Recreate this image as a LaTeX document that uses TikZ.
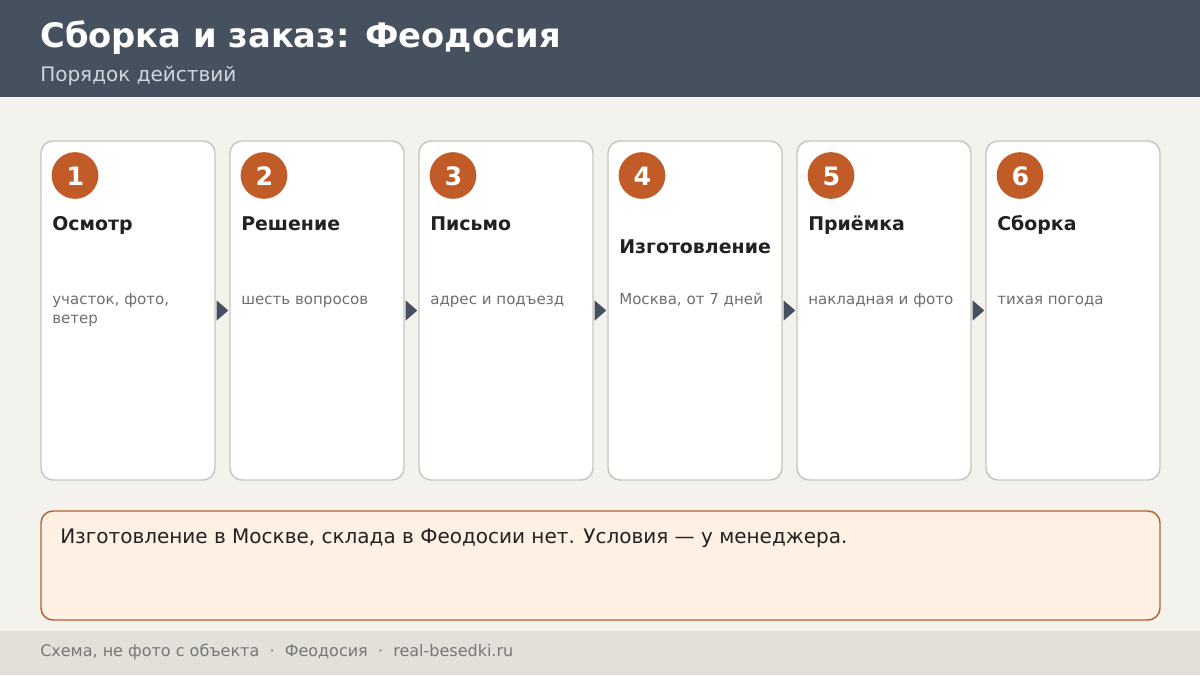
\documentclass[tikz,border=0pt]{standalone}
\usepackage{fontspec}
\setmainfont{DejaVu Sans}
\usetikzlibrary{calc}
\definecolor{hdr}{HTML}{465160}
\definecolor{bgc}{HTML}{F4F2ED}
\definecolor{cardb}{HTML}{C9C5BD}
\definecolor{accent}{HTML}{C15B28}
\definecolor{ink}{HTML}{222222}
\definecolor{muted}{HTML}{6E6E6E}
\definecolor{subt}{HTML}{D0D6DE}
\definecolor{notef}{HTML}{FEF0E2}
\definecolor{noteb}{HTML}{B5622F}
\definecolor{foot}{HTML}{E3E0DA}
\definecolor{foottxt}{HTML}{777777}
\tikzset{
  card/.style={draw=cardb, fill=white, line width=1.1pt, rounded corners=9pt,
    minimum width=130.5pt, minimum height=254.25pt, inner sep=0pt},
  num/.style={circle, fill=accent, minimum size=35pt, inner sep=0pt},
  numtxt/.style={text=white, font=\bfseries\fontsize{19}{19}\selectfont, inner sep=0pt},
  ttl/.style={anchor=base west, inner sep=0pt, text=ink, font=\bfseries\fontsize{14.2}{16}\selectfont},
  desc/.style={anchor=base west, inner sep=0pt, text=muted, font=\fontsize{11.3}{14}\selectfont},
  arr/.style={fill=hdr},
}
\begin{document}
\begin{tikzpicture}[x=0.75pt,y=-0.75pt]
\useasboundingbox (0,0) rectangle (1200,675);
\fill[bgc] (0,0) rectangle (1200,675);
\fill[hdr] (0,0) rectangle (1200,97);
\node[anchor=base west, inner sep=0pt, text=white, font=\bfseries\fontsize{25.3}{28}\selectfont] (title) at (40,47) {Сборка и заказ: Феодосия};
\node[anchor=base west, inner sep=0pt, text=subt, font=\fontsize{15}{18}\selectfont] (subtitle) at (40,81) {Порядок действий};

% cards
\foreach \i/\x/\t/\ty/\d in {
  1/41/Осмотр/230/{участок, фото,},
  2/230/Решение/230/{шесть вопросов},
  3/419/Письмо/230/{адрес и подъезд},
  4/608/Изготовление/253/{Москва, от 7 дней},
  5/797/Приёмка/230/{накладная и фото},
  6/986/Сборка/230/{тихая погода}} {
  \node[card] (c\i) at (\x+87,310.5) {};
  \node[num] (n\i) at (\x+34,175.5) {};
  \node[numtxt] (nt\i) at (\x+34.5,176) {\i};
  \node[ttl] (t\i) at (\x+11,\ty) {\t};
  \node[desc] (d\i) at (\x+11,304) {\d};
}
\node[desc] (d1b) at (52,323) {ветер};
% arrows
\foreach \a/\b in {1/2,2/3,3/4,4/5,5/6} {
  \fill[arr] ($(c\a.east)+(1,-10)$) -- ($(c\b.west)+(-1,0)$) -- ($(c\a.east)+(1,10)$) -- cycle;
}
% note
\node[draw=noteb, fill=notef, line width=1.1pt, rounded corners=9pt, minimum width=839.25pt, minimum height=81.75pt, inner sep=0pt] (note) at (600.5,565.5) {};
\node[anchor=base west, inner sep=0pt, text=ink, font=\fontsize{15}{18}\selectfont] (notetxt) at (60,543) {Изготовление в Москве, склада в Феодосии нет. Условия — у менеджера.};
% footer
\fill[foot] (0,631) rectangle (1200,675);
\node[anchor=base west, inner sep=0pt, text=foottxt, font=\fontsize{12}{14}\selectfont] (foottext) at (40,656) {Схема, не фото с объекта \ · \ Феодосия \ · \ real-besedki.ru};
\end{tikzpicture}
\end{document}
